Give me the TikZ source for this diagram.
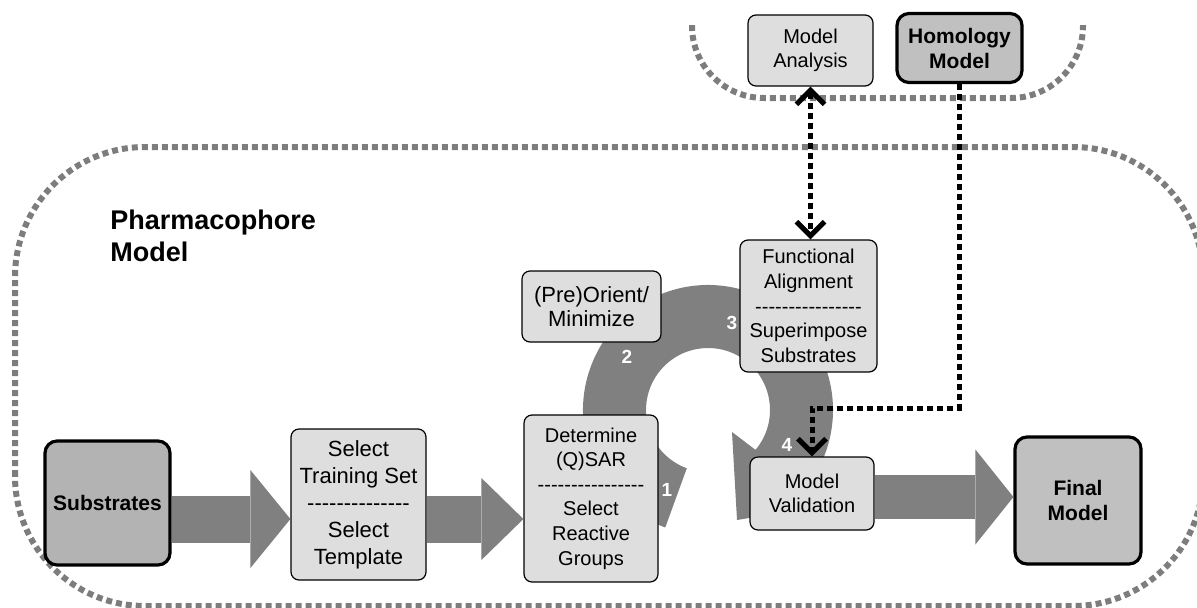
\documentclass[tikz,border=0pt]{standalone}
\usepackage{fontspec}
\setmainfont{Liberation Sans}
\usetikzlibrary{arrows.meta,calc}
\definecolor{boxgray}{RGB}{222,222,222}
\definecolor{keygray}{RGB}{192,192,192}
\definecolor{subgray}{RGB}{179,179,179}
\definecolor{flowgray}{RGB}{128,128,128}
\definecolor{zonegray}{RGB}{125,125,125}
\newcommand{\hyphenrow}[1]{\foreach \hy in {1,...,#1}{\mbox{-}}}

\begin{document}
\begin{tikzpicture}[x=0.5pt,y=0.5pt,font=\fontsize{10}{12.3}\selectfont,
  >={Straight Barb[length=7pt,width=14pt,line width=2.6pt]},
  procbox/.style={draw,line width=0.6pt,fill=boxgray,rounded corners=4pt,align=center,inner sep=0pt},
  keybox/.style={draw,line width=1.6pt,fill=keygray,rounded corners=6pt,align=center,inner sep=0pt,
    font=\fontsize{10.5}{12.5}\selectfont\bfseries},
  zone/.style={draw=zonegray,line width=3pt,dash pattern=on 3pt off 2pt},
  link/.style={line width=2.5pt,dash pattern=on 3pt off 2pt},
  flow/.style={draw=flowgray,line width=23.5pt},
  numlabel/.style={text=white,font=\fontsize{9.5}{9.5}\selectfont\bfseries}]
\useasboundingbox (0,0) rectangle (1197,607);

% dotted zones
\draw[zone,rounded corners=65pt] (15,1) rectangle (1203,460);
\draw[zone,rounded corners=36pt] (692,582) -- (692,509) -- (1083,509) -- (1083,582);

% circular arrow behind the loop
\fill[flowgray] (708,197) ++(250:125) arc[start angle=250,end angle=-40,radius=125]
  -- (827,102) -- (737,87) -- (732,175)
  -- ($(708,197)+(-40:62)$) arc[start angle=-40,end angle=250,radius=62] -- cycle;

% boxes
\node[keybox,fill=subgray,minimum width=62.5pt,minimum height=62pt] (substrates) at (107.5,104) {Substrates};
\node[procbox,minimum width=67.5pt,minimum height=75.5pt,font=\fontsize{11}{13.5}\selectfont] (training) at (358.5,102.5)
  {Select\\Training Set\\\hyphenrow{14}\\Select\\Template};
\node[procbox,minimum width=67pt,minimum height=83.5pt] (determine) at (591,108.5)
  {Determine\\(Q)SAR\\\hyphenrow{16}\\Select\\Reactive\\Groups};
\node[procbox,minimum width=69.5pt,minimum height=35.5pt,font=\fontsize{11}{12}\selectfont] (preorient) at (591.5,300.5)
  {(Pre)Orient/\\Minimize};
\node[procbox,minimum width=68.5pt,minimum height=66pt] (functional) at (808.5,301)
  {Functional\\Alignment\\\hyphenrow{16}\\Superimpose\\Substrates};
\node[procbox,minimum width=62.5pt,minimum height=35.5pt] (analysis) at (810.5,556.5) {Model\\Analysis};
\node[keybox,minimum width=62.5pt,minimum height=34.5pt] (homology) at (959.5,559) {Homology\\Model};
\node[procbox,minimum width=62pt,minimum height=36.5pt] (validation) at (812,113.5) {Model\\Validation};
\node[keybox,minimum width=63pt,minimum height=63.5pt] (final) at (1078,106.5) {Final\\Model};

\node[anchor=north west,align=left,inner sep=0pt,font=\fontsize{13.5}{16}\selectfont\bfseries] (pharm)
  at (110,397) {Pharmacophore\\Model};

% step numbers
\node[numlabel] (n1) at (667,117) {1};
\node[numlabel] (n2) at (627,250) {2};
\node[numlabel] (n3) at (732,284) {3};
\node[numlabel] (n4) at (787,162) {4};

% main flow
\coordinate (rowa) at (0,88);
\coordinate (rowc) at (0,110);
\draw[flow,-{Triangle[length=20pt,width=49pt,line width=0pt]}] (substrates.east |- rowa) -- (training.west |- rowa);
\draw[flow,-{Triangle[length=21pt,width=41pt,line width=0pt]}] (training.east |- rowa) -- (determine.west |- rowa);
\draw[flow,line width=22pt,-{Triangle[length=19pt,width=47.5pt,line width=0pt]}] (validation.east |- rowc) -- (final.west |- rowc);

% homology links
\coordinate (elbow) at (812,199);
\draw[link,<->] (analysis.south) -- (analysis.south |- functional.north);
\draw[link,->] (homology.south) |- (elbow) -- (validation.north);
\end{tikzpicture}
\end{document}
